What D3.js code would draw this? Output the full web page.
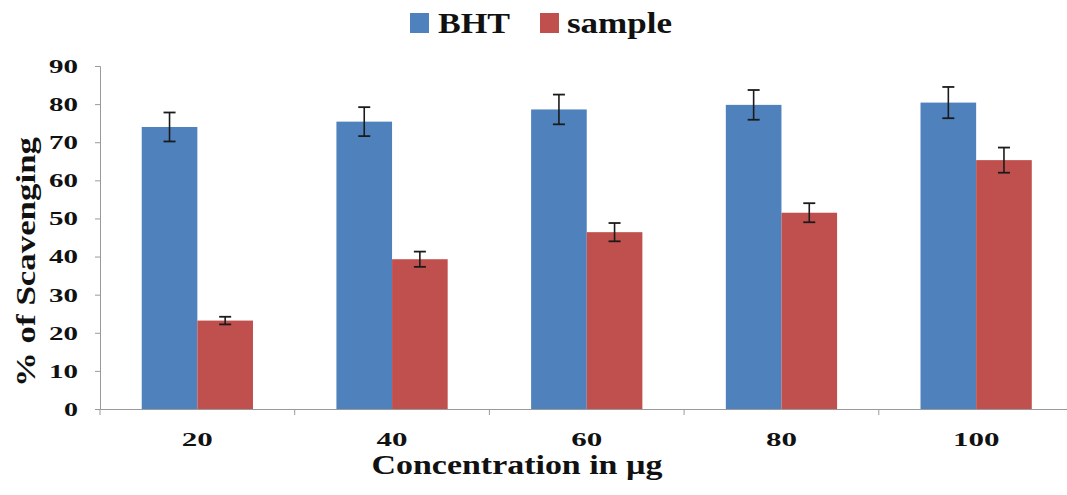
<!DOCTYPE html>
<html>
<head>
<meta charset="utf-8">
<script src="https://cdn.jsdelivr.net/npm/d3@7"></script>
<style>
  html, body { margin: 0; padding: 0; background: #fff; }
  svg { display: block; }
  text { font-family: "Liberation Serif", "Times New Roman", serif; font-weight: bold; fill: #111; }
</style>
</head>
<body>
<svg id="chart" width="1067" height="495"></svg>
<script>
const categories = ["20", "40", "60", "80", "100"];
const seriesNames = ["BHT", "sample"];
const bhtValues = [74.0, 75.4, 78.6, 79.8, 80.4];
const bhtErrors = [3.8, 3.8, 3.9, 3.9, 4.1];
const sampleValues = [23.2, 39.3, 46.4, 51.5, 65.3];
const sampleErrors = [1.0, 2.0, 2.4, 2.5, 3.3];
const yTicks = [0, 10, 20, 30, 40, 50, 60, 70, 80, 90];
const colors = ["#4F81BD", "#C0504D"];

const svg = d3.select("#chart");

const x0 = d3.scaleBand().domain(categories).range([100, 1073.5]).padding(0);
const x1 = d3.scaleBand().domain(seriesNames).range([0, x0.bandwidth()]).paddingInner(0).paddingOuter(0.75);
const y = d3.scaleLinear().domain([0, 90]).range([409, 66]);
const color = d3.scaleOrdinal().domain(seriesNames).range(colors);

const data = categories.map((c, i) => ({
  cat: c,
  vals: [
    { s: "BHT", v: bhtValues[i], e: bhtErrors[i] },
    { s: "sample", v: sampleValues[i], e: sampleErrors[i] }
  ]
}));

// Y axis
const yAxis = d3.axisLeft(y).tickValues(yTicks).tickSize(5).tickFormat("");
const yg = svg.append("g").attr("transform", "translate(100,0)").call(yAxis);
yg.selectAll("path, line").attr("stroke", "#9a9a9a").attr("stroke-width", 1);

yg.selectAll(".tlabel").data(yTicks).join("text")
  .attr("class", "tlabel")
  .attr("x", -22)
  .attr("y", d => y(d) - 100 + 100)
  .attr("dy", "0.36em")
  .attr("text-anchor", "end")
  .attr("font-size", 19)
  .attr("textLength", d => String(d).length === 1 ? 14 : 29)
  .attr("lengthAdjust", "spacingAndGlyphs")
  .text(d => d);

// X axis
const xAxis = d3.axisBottom(x0).tickSize(0).tickFormat("");
const xg = svg.append("g").attr("transform", "translate(0,409)").call(xAxis);
xg.select("path").attr("stroke", "#9a9a9a").attr("stroke-width", 1);
// boundary tick marks
const bounds = categories.map(c => x0(c));
xg.selectAll(".btick").data(bounds).join("line")
  .attr("class", "btick")
  .attr("x1", d => d).attr("x2", d => d)
  .attr("y1", 0).attr("y2", 6)
  .attr("stroke", "#9a9a9a");

xg.selectAll(".xlabel").data(categories).join("text")
  .attr("class", "xlabel")
  .attr("x", d => x0(d) + x0.bandwidth() / 2)
  .attr("y", 37)
  .attr("text-anchor", "middle")
  .attr("font-size", 19)
  .attr("textLength", d => d.length * 15.5)
  .attr("lengthAdjust", "spacingAndGlyphs")
  .text(d => d);

// Bars
const groups = svg.append("g").selectAll("g").data(data).join("g")
  .attr("transform", d => `translate(${x0(d.cat)},0)`);

groups.selectAll("rect").data(d => d.vals).join("rect")
  .attr("x", d => x1(d.s))
  .attr("y", d => y(d.v))
  .attr("width", x1.bandwidth())
  .attr("height", d => y(0) - y(d.v))
  .attr("fill", d => color(d.s));

// Error bars
const eb = groups.selectAll("g.err").data(d => d.vals).join("g").attr("class", "err")
  .attr("transform", d => `translate(${x1(d.s) + x1.bandwidth() / 2},0)`);
eb.append("line")
  .attr("x1", 0).attr("x2", 0)
  .attr("y1", d => y(d.v + d.e)).attr("y2", d => y(d.v - d.e))
  .attr("stroke", "#1b1b1b").attr("stroke-width", 1.6);
eb.append("line")
  .attr("x1", -6).attr("x2", 6)
  .attr("y1", d => y(d.v + d.e)).attr("y2", d => y(d.v + d.e))
  .attr("stroke", "#1b1b1b").attr("stroke-width", 1.8);
eb.append("line")
  .attr("x1", -6).attr("x2", 6)
  .attr("y1", d => y(d.v - d.e)).attr("y2", d => y(d.v - d.e))
  .attr("stroke", "#1b1b1b").attr("stroke-width", 1.8);

// Axis titles
svg.append("text")
  .attr("x", 517).attr("y", 474)
  .attr("text-anchor", "middle")
  .attr("font-size", 28)
  .attr("textLength", 291)
  .attr("lengthAdjust", "spacingAndGlyphs")
  .text("Concentration in µg");

svg.append("text")
  .attr("transform", "translate(35,262) rotate(-90)")
  .attr("text-anchor", "middle")
  .attr("font-size", 28)
  .attr("textLength", 250)
  .attr("lengthAdjust", "spacingAndGlyphs")
  .text("% of Scavenging");

// Legend
const legendItems = [
  { s: "BHT", sx: 410, tx: 438, tw: 72 },
  { s: "sample", sx: 540, tx: 567, tw: 105 }
];
const lg = svg.append("g");
lg.selectAll("rect").data(legendItems).join("rect")
  .attr("x", d => d.sx).attr("y", 13)
  .attr("width", 19).attr("height", 20)
  .attr("fill", d => color(d.s));
lg.selectAll("text").data(legendItems).join("text")
  .attr("x", d => d.tx).attr("y", 33)
  .attr("font-size", 29)
  .attr("textLength", d => d.tw)
  .attr("lengthAdjust", "spacingAndGlyphs")
  .text(d => d.s);
</script>
</body>
</html>
